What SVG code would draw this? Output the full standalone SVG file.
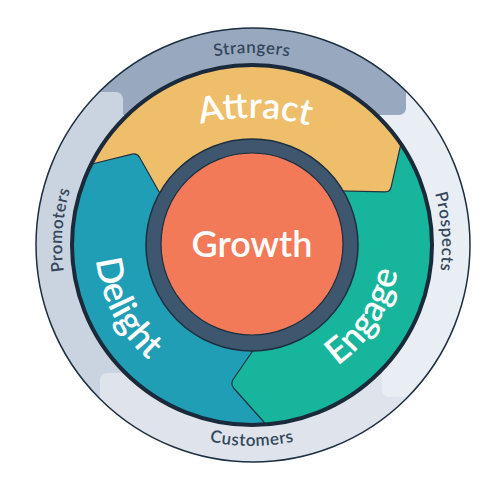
<svg xmlns="http://www.w3.org/2000/svg" width="498" height="483" viewBox="0 0 498 483">
<defs>
<style>
.big{font-family:Lato,"Open Sans",sans-serif;font-weight:600;fill:#fff;font-size:36px}
.lab{font-family:Lato,"Open Sans",sans-serif;font-weight:600;fill:#34475b;font-size:17px;letter-spacing:0.5px}
.seg{stroke:#1d3244;stroke-width:1.2;stroke-linejoin:round}
.line{fill:none;stroke:#1d2f40}
</style>
<clipPath id="outerClip"><circle cx="253" cy="245" r="217"/></clipPath>
<clipPath id="innerClip"><circle cx="252" cy="245" r="179"/></clipPath>
<path id="pAttract" d="M125.8,157.8 A220,220 0 0 1 378.2,157.8"/>
<path id="pEngage" d="M290.3,388 A148,148 0 0 0 397.8,219.3"/>
<path id="pDelight" d="M102.7,198.1 A152,152 0 0 0 203,389.9"/>
<path id="pStrangers" d="M128.6,97.9 A192,192 0 0 1 375.4,97.9"/>
<path id="pCustomers" d="M122.8,399 A201,201 0 0 0 381.2,399"/>
<path id="pProspects" d="M388.7,113 A190,190 0 0 1 405.7,356.7"/>
<path id="pPromoters" d="M97.3,355.3 A190,190 0 0 1 116.5,111.8"/>
</defs>
<rect width="498" height="483" fill="#fff"/>
<g id="band" clip-path="url(#outerClip)">
  <rect x="0" y="0" width="498" height="483" fill="#e9eef5"/>
  <rect x="-20" y="-20" width="426" height="135" rx="7" fill="#98a9bf"/>
  <rect x="-20" y="92" width="143" height="420" rx="7" fill="#c9d4e0"/>
  <rect x="100" y="373" width="420" height="140" rx="7" fill="#dfe4ec"/>
  <rect x="382" y="300" width="140" height="97" rx="7" fill="#e9eef5"/>
</g>
<circle class="line" cx="253" cy="245" r="217" stroke-width="1.5"/>
<g id="strangers"><text class="lab"><textPath href="#pStrangers" startOffset="50%" text-anchor="middle">Strangers</textPath></text></g>
<g id="prospects"><text class="lab"><textPath href="#pProspects" startOffset="50%" text-anchor="middle">Prospects</textPath></text></g>
<g id="customers"><text class="lab"><textPath href="#pCustomers" startOffset="50%" text-anchor="middle">Customers</textPath></text></g>
<g id="promoters"><text class="lab"><textPath href="#pPromoters" startOffset="50%" text-anchor="middle">Promoters</textPath></text></g>
<g clip-path="url(#innerClip)">
  <g id="engage"><circle cx="252" cy="245" r="180" fill="#17b59b"/></g>
  <g id="attract"><path class="seg" fill="#efbe6a" d="M0,0 L498,0 L498,60 L411,107 L400,148 L391.1,187.1 Q390,192 385,191.8 L300,190 L252,245 L150,260 L0,260 Z"/></g>
  <g id="delight"><path class="seg" fill="#1f9eb5" d="M190,245 L158,190 L139.5,157.3 Q137,153 132.1,154.2 L96,163 L40,177 L0,180 L0,483 L290,483 L280,443 L263,421 L234,388.5 Q230,384 233.4,379 L252,352 L270,325 L252,245 Z"/></g>
</g>
<circle cx="252" cy="245" r="180" fill="none" stroke="#1b2a3a" stroke-width="4"/>
<text class="big" font-size="34"><textPath href="#pAttract" startOffset="51.1%" text-anchor="middle">Attract</textPath></text>
<text class="big"><textPath href="#pEngage" startOffset="50%" text-anchor="middle">Engage</textPath></text>
<text class="big"><textPath href="#pDelight" startOffset="50%" text-anchor="middle">Delight</textPath></text>
<g id="growth">
  <circle cx="252" cy="245" r="106" fill="#3e566e" stroke="#1d2f40" stroke-width="1.5"/>
  <circle cx="252" cy="244" r="91" fill="#f27a59" stroke="#1d2f40" stroke-width="1.2"/>
  <text class="big" x="252" y="257" text-anchor="middle" font-size="35">Growth</text>
</g>
</svg>
